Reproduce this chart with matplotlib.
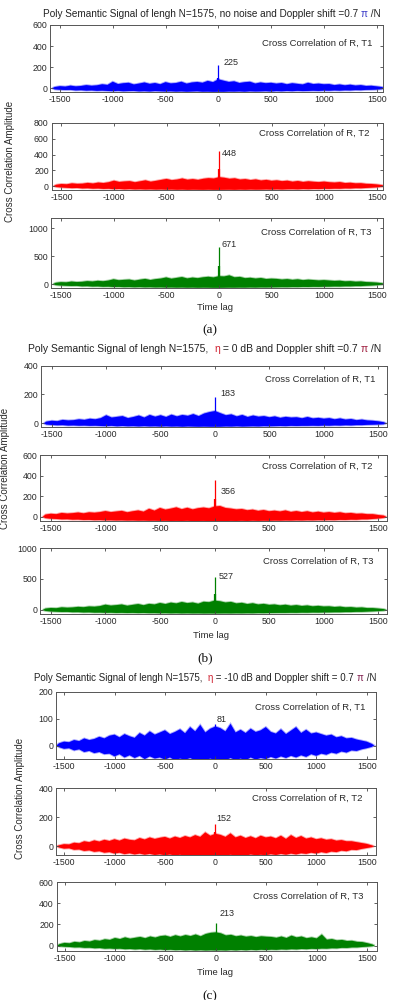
import numpy as np
import matplotlib
matplotlib.use("Agg")
import matplotlib.pyplot as plt

# ---------------- data ----------------
LAG_FIRST, LAG_LAST = -1550, 1550      # envelope samples every 50 lags
LAG_END = 1574                          # signal support is -1574..1574
X_TICKS = [-1500, -1000, -500, 0, 500, 1000, 1500]

A1_UP = [12, 20, 16, 25, 18, 22, 30, 24, 28, 38, 32,
         62, 40, 48, 52, 36, 45, 55, 42, 50, 38,
         58, 46, 50, 62, 44, 55, 60, 52, 70, 58,
         85,
         72, 60, 66, 50, 58, 62, 45, 55, 48, 52,
         44, 50, 38, 48, 42, 36, 52, 40, 44, 38,
         40, 30, 36, 28, 34, 26, 30, 22, 24, 18, 12]
A1_LO = [-10, -14, -16, -15, -20, -18, -22, -20, -24, -22, -25,
         -27, -24, -28, -26, -25, -29, -27, -30, -26, -28,
         -30, -28, -31, -29, -32, -30, -28, -32, -31, -33,
         -32,
         -33, -30, -31, -29, -32, -28, -30, -29, -27, -30,
         -26, -28, -25, -27, -24, -26, -25, -23, -25, -22,
         -23, -20, -22, -19, -20, -17, -18, -15, -14, -12, -8]

A2_UP = [16, 26, 22, 34, 28, 30, 40, 32, 44, 38, 48,
         68, 52, 58, 62, 48, 60, 72, 55, 66, 78,
         90, 75, 82, 96, 80, 88, 78, 92, 100, 95,
         112,
         105, 92, 98, 82, 88, 76, 84, 70, 78, 66,
         72, 62, 68, 55, 64, 52, 60, 54, 50, 56,
         48, 44, 50, 38, 42, 34, 36, 28, 26, 20, 12]
A2_LO = [-12, -18, -22, -26, -24, -30, -28, -33, -31, -36, -34,
         -40, -37, -42, -39, -43, -41, -44, -42, -45, -43,
         -46, -44, -47, -45, -48, -46, -47, -48, -46, -48,
         -48,
         -47, -46, -48, -45, -47, -44, -46, -45, -43, -45,
         -42, -44, -41, -40, -42, -38, -40, -37, -38, -35,
         -36, -33, -34, -30, -31, -27, -28, -24, -20, -16, -10]

A3_UP = [22, 34, 30, 44, 36, 40, 52, 45, 58, 50, 62,
         85, 68, 75, 80, 62, 78, 92, 72, 88, 98,
         118, 95, 110, 125, 100, 115, 105, 120, 130, 118,
         140,
         135, 155, 120, 128, 105, 112, 98, 108, 90, 96,
         92, 80, 88, 75, 84, 70, 78, 72, 64, 70,
         62, 56, 60, 48, 52, 42, 46, 36, 32, 26, 16]
A3_LO = [-18, -26, -30, -34, -32, -40, -38, -44, -42, -48, -46,
         -52, -50, -55, -53, -57, -54, -58, -56, -60, -58,
         -62, -60, -63, -61, -64, -62, -65, -63, -64, -66,
         -66,
         -65, -63, -64, -62, -63, -60, -62, -59, -60, -58,
         -57, -55, -56, -53, -54, -51, -52, -49, -50, -47,
         -46, -43, -44, -40, -40, -36, -36, -30, -26, -20, -12]

B1_UP = [12, 18, 15, 24, 20, 22, 28, 24, 32, 28, 36,
         56, 40, 45, 50, 36, 44, 54, 40, 58, 46,
         56, 44, 60, 48, 58, 52, 64, 50, 68, 78,
         85,
         70, 56, 62, 48, 58, 44, 54, 46, 50, 42,
         48, 38, 45, 40, 42, 35, 44, 34, 38, 32,
         36, 28, 34, 26, 30, 22, 26, 20, 18, 14, 8]
B1_LO = [-8, -11, -13, -12, -15, -14, -16, -15, -17, -16, -18,
         -19, -17, -20, -18, -20, -19, -21, -19, -21, -20,
         -22, -20, -22, -21, -23, -21, -22, -23, -22, -23,
         -23,
         -23, -21, -22, -20, -22, -21, -20, -21, -19, -20,
         -19, -18, -19, -17, -18, -17, -17, -16, -17, -15,
         -16, -14, -15, -13, -14, -12, -12, -10, -9, -8, -6]

B2_UP = [22, 30, 26, 38, 32, 36, 42, 34, 44, 40, 46,
         56, 46, 52, 58, 44, 54, 62, 50, 78, 60,
         86, 70, 80, 92, 74, 88, 72, 84, 90, 82,
         100,
         105, 86, 80, 72, 76, 64, 70, 58, 66, 54,
         60, 52, 62, 48, 56, 46, 54, 42, 50, 40,
         46, 38, 44, 34, 38, 30, 32, 26, 26, 18, 12]
B2_LO = [-12, -18, -20, -24, -23, -27, -26, -30, -29, -32, -31,
         -34, -33, -35, -34, -36, -35, -37, -36, -38, -37,
         -39, -38, -40, -39, -40, -38, -41, -40, -39, -41,
         -41,
         -40, -41, -39, -40, -38, -40, -37, -39, -37, -38,
         -36, -37, -35, -36, -34, -35, -33, -34, -32, -33,
         -31, -32, -29, -30, -27, -28, -24, -24, -20, -16, -10]

B3_UP = [22, 32, 28, 42, 36, 40, 50, 44, 56, 52, 62,
         85, 70, 78, 88, 68, 82, 95, 76, 98, 88,
         112, 95, 118, 105, 128, 110, 120, 100, 132, 125,
         150,
         140, 120, 130, 105, 115, 95, 108, 88, 98, 82,
         88, 74, 84, 68, 78, 64, 72, 58, 66, 55,
         58, 48, 54, 42, 46, 36, 40, 30, 30, 22, 14]
B3_LO = [-15, -24, -28, -32, -31, -36, -35, -40, -38, -43, -42,
         -46, -44, -48, -46, -49, -47, -50, -48, -51, -50,
         -53, -51, -54, -52, -55, -53, -55, -54, -56, -55,
         -56,
         -55, -54, -55, -53, -54, -52, -53, -50, -51, -49,
         -48, -47, -47, -45, -46, -43, -44, -41, -42, -40,
         -39, -37, -37, -34, -34, -30, -30, -26, -22, -18, -12]

C1_UP = [8, 14, 12, 20, 16, 26, 20, 24, 32, 26, 36,
         40, 30, 42, 34, 28, 46, 36, 52, 40, 48,
         56, 42, 50, 60, 45, 68, 52, 76, 48, 62,
         70,
         64, 52, 80, 48, 58, 46, 62, 50, 56, 68,
         50, 44, 60, 42, 55, 68, 46, 58, 44, 48,
         42, 36, 40, 30, 34, 26, 28, 22, 18, 14, 6]
C1_LO = [-6, -12, -10, -18, -14, -24, -20, -28, -24, -32, -30,
         -40, -32, -44, -36, -46, -38, -50, -40, -48, -44,
         -52, -44, -55, -48, -53, -46, -55, -50, -54, -48,
         -55,
         -50, -55, -46, -54, -48, -55, -44, -52, -46, -50,
         -42, -48, -40, -46, -38, -44, -36, -42, -32, -38,
         -30, -34, -26, -30, -22, -26, -18, -20, -14, -10, -5]

C2_UP = [6, 14, 12, 24, 20, 34, 28, 40, 32, 44, 36,
         48, 38, 52, 44, 40, 56, 46, 60, 50, 58,
         64, 52, 66, 56, 70, 60, 76, 64, 95, 72,
         85,
         78, 64, 88, 60, 72, 56, 68, 54, 72, 60,
         66, 54, 72, 50, 76, 56, 70, 52, 60, 48,
         54, 44, 48, 38, 42, 34, 34, 28, 22, 16, 6]
C2_LO = [-8, -16, -14, -24, -22, -32, -28, -38, -34, -44, -40,
         -50, -44, -54, -48, -56, -50, -58, -52, -60, -55,
         -62, -56, -64, -58, -65, -60, -65, -62, -65, -60,
         -65,
         -62, -65, -58, -64, -60, -65, -56, -62, -58, -62,
         -54, -60, -52, -58, -50, -56, -48, -52, -44, -50,
         -40, -46, -36, -40, -30, -34, -24, -26, -18, -12, -6]

C3_UP = [14, 26, 22, 36, 30, 44, 38, 52, 46, 60, 54,
         72, 62, 78, 66, 74, 82, 70, 86, 76, 90,
         95, 82, 98, 86, 100, 90, 105, 88, 110, 121,
         125,
         116, 96, 102, 88, 95, 84, 90, 80, 88, 84,
         82, 74, 86, 72, 94, 78, 86, 70, 78, 68,
         105, 56, 62, 50, 54, 44, 46, 36, 34, 24, 12]
C3_LO = [-6, -10, -12, -16, -15, -20, -19, -24, -22, -28, -26,
         -30, -28, -33, -31, -35, -32, -37, -34, -39, -36,
         -41, -38, -42, -40, -44, -41, -45, -42, -45, -43,
         -45,
         -43, -45, -41, -44, -40, -43, -39, -42, -38, -41,
         -37, -39, -35, -37, -33, -35, -31, -33, -29, -31,
         -27, -28, -24, -25, -20, -21, -16, -16, -12, -9, -5]

# peak at lag 0: main value (labelled) and the neighbouring sample
PEAK_MAIN = [225, 448, 671, 183, 356, 527, 81, 152, 213]
PEAK_SIDE = [100, 220, 320, 75, 175, 260, 50, 95, 120]

SERIES_NAMES = ["Cross Correlation of R, T1", "Cross Correlation of R, T2",
                "Cross Correlation of R, T3"]
Y_TICKS = [[0, 200, 400, 600], [0, 200, 400, 600, 800], [0, 500, 1000],
           [0, 200, 400], [0, 200, 400, 600], [0, 500, 1000],
           [0, 100, 200], [0, 200, 400], [0, 200, 400, 600]]
Y_LIMS = [(-35, 600), (-50, 800), (-70, 1180),
          (-25, 400), (-40, 600), (-65, 1000),
          (-50, 200), (-60, 400), (-50, 600)]
X_LIMS = [(-1595, 1560), (-1595, 1560), (-1595, 1560),
          (-1600, 1580), (-1600, 1580), (-1600, 1580),
          (-1580, 1592), (-1580, 1592), (-1580, 1592)]

UPS = [A1_UP, A2_UP, A3_UP, B1_UP, B2_UP, B3_UP, C1_UP, C2_UP, C3_UP]
LOS = [A1_LO, A2_LO, A3_LO, B1_LO, B2_LO, B3_LO, C1_LO, C2_LO, C3_LO]
COLORS = ["#0000ff", "#ff0000", "#008000"]

TITLES = [
    [("Poly Semantic Signal of lengh N=1575, no noise and Doppler shift =0.7 ", "#222222"),
     ("\u03c0", "#3a3ac8"), (" /N", "#222222")],
    [("Poly Semantic Signal of lengh N=1575,  ", "#222222"), ("\u03b7", "#d02030"),
     (" = 0 dB and Doppler shift =0.7 ", "#222222"), ("\u03c0", "#a02040"), (" /N", "#222222")],
    [("Poly Semantic Signal of lengh N=1575,  ", "#222222"), ("\u03b7", "#d02030"),
     (" = -10 dB and Doppler shift = 0.7 ", "#222222"), ("\u03c0", "#802050"), (" /N", "#222222")],
]
YLABEL = "Cross Correlation Amplitude"
XLABEL = "Time lag"
SUBLABELS = ["(a)", "(b)", "(c)"]

# ---------------- layout (pixels, top-left origin) ----------------
W, H = 393, 1000
AX_BOX = [(50, 25, 383, 92), (51.5, 123, 383, 190), (51, 218, 383, 288),
          (41, 365.5, 387, 427), (40, 455, 387, 521), (40, 548, 387, 614),
          (56, 691.5, 376, 759), (56, 788, 376, 855), (56.5, 882, 376.5, 951)]
NAME_POS = [(0.967, 0.73), (0.958, 0.85), (0.964, 0.80),
            (0.965, 0.778), (0.958, 0.823), (0.961, 0.793),
            (0.966, 0.762), (0.959, 0.846), (0.96, 0.797)]
PEAK_LABEL_POS = [(45, 244), (30, 415), (30, 702), (45, 209), (55, 247), (40, 537),
                  (10, 95), (10, 193), (40, 302)]
TITLE_POS = [(211.5, 14, 343), (204.5, 349, 357), (205, 678, 348)]
XLABEL_POS = [(215, 308), (211, 635), (215, 972.5)]
YLABEL_POS = [(10, 161), (5, 468), (20, 798)]
SUB_POS = [(210, 330), (205, 658), (210, 996)]

FONT = ["Liberation Sans", "DejaVu Sans"]
TXT = "#2a2a2a"

plt.rcParams["font.family"] = FONT
fig = plt.figure(figsize=(W / 100, H / 100), dpi=100)
fig.patch.set_facecolor("white")

for i in range(9):
    x0, y0, x1, y1 = AX_BOX[i]
    ax = fig.add_axes([x0 / W, 1 - y1 / H, (x1 - x0) / W, (y1 - y0) / H])
    col = COLORS[i % 3]
    up = np.asarray(UPS[i], float)
    lo = np.asarray(LOS[i], float)
    lag_up = np.linspace(LAG_FIRST, LAG_LAST, len(up))
    lag_lo = np.linspace(LAG_FIRST, LAG_LAST, len(lo))
    px = np.concatenate([[-LAG_END], lag_up, [LAG_END], lag_lo[::-1]])
    py = np.concatenate([[0], up, [0], lo[::-1]])
    ax.fill(px, py, color=col, alpha=0.35, lw=1.4, ec=col)
    ax.fill(px, py, color=col, lw=0)
    ax.vlines(0, 0, PEAK_SIDE[i], color=col, lw=1.6)
    ax.vlines(0, 0, PEAK_MAIN[i], color=col, lw=0.9)
    lx, ly = PEAK_LABEL_POS[i]
    ax.text(lx, ly, str(PEAK_MAIN[i]), ha="left", va="center", fontsize=6.5, color=TXT)
    nx, ny = NAME_POS[i]
    ax.text(nx, ny, SERIES_NAMES[i % 3], transform=ax.transAxes, ha="right", va="center",
            fontsize=6.8, color=TXT)
    ax.set_xlim(*X_LIMS[i])
    ax.set_ylim(*Y_LIMS[i])
    ax.set_xticks(X_TICKS)
    ax.set_yticks(Y_TICKS[i])
    ax.set_xticklabels([str(v) for v in X_TICKS])
    ax.set_yticklabels([str(v) for v in Y_TICKS[i]])
    ax.tick_params(direction="in", length=2.5, width=0.6, top=True, right=True,
                   labelsize=6.3, labelcolor=TXT, color="#444444", pad=2)
    for sp in ax.spines.values():
        sp.set_linewidth(0.7)
        sp.set_color("#555555")

renderer = fig.canvas.get_renderer()


def text_width(s, size):
    t = fig.text(0, 0, s + "|", fontsize=size)
    w1 = t.get_window_extent(renderer).width
    t.remove()
    t = fig.text(0, 0, "|", fontsize=size)
    w2 = t.get_window_extent(renderer).width
    t.remove()
    return w1 - w2


for k in range(3):
    cx, cy, target = TITLE_POS[k]
    pieces = TITLES[k]
    base = 6.0
    total = sum(text_width(s, base) for s, _ in pieces)
    size = base * target / total
    widths = [text_width(s, size) for s, _ in pieces]
    x = cx - sum(widths) / 2
    for (s, c), w in zip(pieces, widths):
        fig.text(x / W, 1 - cy / H, s, fontsize=size, color=c, ha="left", va="center")
        x += w
    xx, xy = XLABEL_POS[k]
    fig.text(xx / W, 1 - xy / H, XLABEL, fontsize=6.8, color=TXT, ha="center", va="center")
    yx, yy = YLABEL_POS[k]
    fig.text(yx / W, 1 - yy / H, YLABEL, fontsize=7, color=TXT, ha="center", va="center",
             rotation=90)
    sx, sy = SUB_POS[k]
    fig.text(sx / W, 1 - sy / H, SUBLABELS[k], fontsize=9.5, color="#111111", ha="center",
             va="center", family=["Liberation Serif", "DejaVu Serif"])

fig.savefig("out.png", dpi=100, facecolor="white")
